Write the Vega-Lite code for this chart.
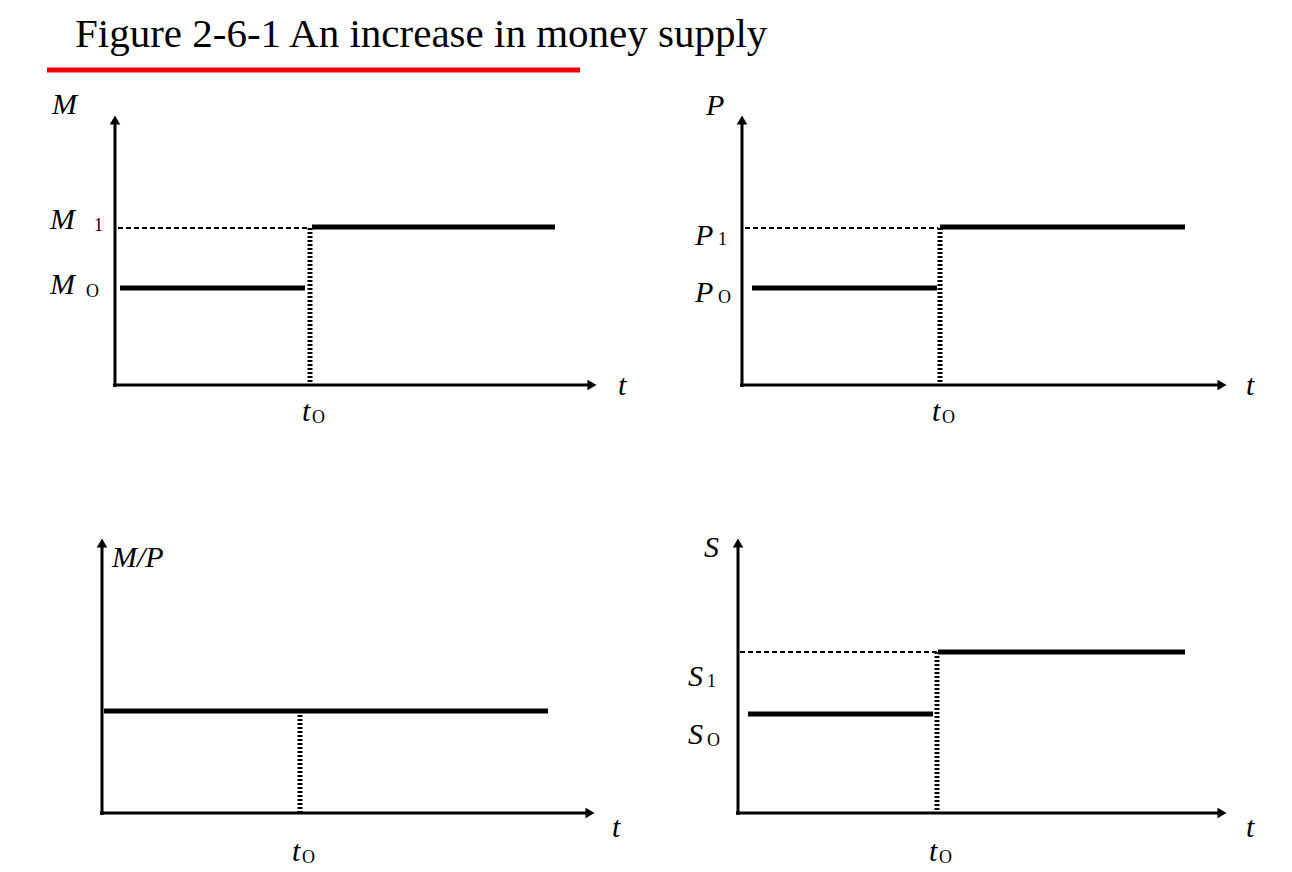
{
  "$schema": "https://vega.github.io/schema/vega-lite/v6.json",
  "width": 1292,
  "height": 872,
  "autosize": {"type": "fit", "contains": "padding"},
  "padding": 0,
  "background": "white",
  "config": {"view": {"stroke": null}},
  "datasets": {
    "segs": [
      {"s": "red", "k": "red", "x": 47, "y": 70}, {"s": "red", "k": "red", "x": 580, "y": 70},

      {"s": "a1y", "k": "axis", "x": 115, "y": 387}, {"s": "a1y", "k": "axis", "x": 115, "y": 120},
      {"s": "a1x", "k": "axis", "x": 113, "y": 385}, {"s": "a1x", "k": "axis", "x": 590, "y": 385},
      {"s": "d1", "k": "dash", "x": 118, "y": 228}, {"s": "d1", "k": "dash", "x": 310, "y": 228},
      {"s": "m0", "k": "thick", "x": 120, "y": 288}, {"s": "m0", "k": "thick", "x": 305, "y": 288},
      {"s": "m1", "k": "thick", "x": 312, "y": 227}, {"s": "m1", "k": "thick", "x": 555, "y": 227},
      {"s": "v1", "k": "dot", "x": 310, "y": 228}, {"s": "v1", "k": "dot", "x": 310, "y": 385},

      {"s": "a2y", "k": "axis", "x": 742, "y": 387}, {"s": "a2y", "k": "axis", "x": 742, "y": 120},
      {"s": "a2x", "k": "axis", "x": 740, "y": 385}, {"s": "a2x", "k": "axis", "x": 1220, "y": 385},
      {"s": "d2", "k": "dash", "x": 745, "y": 228}, {"s": "d2", "k": "dash", "x": 938, "y": 228},
      {"s": "p0", "k": "thick", "x": 752, "y": 288}, {"s": "p0", "k": "thick", "x": 937, "y": 288},
      {"s": "p1", "k": "thick", "x": 940, "y": 227}, {"s": "p1", "k": "thick", "x": 1185, "y": 227},
      {"s": "v2", "k": "dot", "x": 940, "y": 228}, {"s": "v2", "k": "dot", "x": 940, "y": 385},

      {"s": "a3y", "k": "axis", "x": 102, "y": 815}, {"s": "a3y", "k": "axis", "x": 102, "y": 543},
      {"s": "a3x", "k": "axis", "x": 100, "y": 813}, {"s": "a3x", "k": "axis", "x": 588, "y": 813},
      {"s": "mp", "k": "thick", "x": 104, "y": 711}, {"s": "mp", "k": "thick", "x": 548, "y": 711},
      {"s": "v3", "k": "dot", "x": 300, "y": 711}, {"s": "v3", "k": "dot", "x": 300, "y": 813},

      {"s": "a4y", "k": "axis", "x": 738, "y": 815}, {"s": "a4y", "k": "axis", "x": 738, "y": 543},
      {"s": "a4x", "k": "axis", "x": 736, "y": 813}, {"s": "a4x", "k": "axis", "x": 1220, "y": 813},
      {"s": "d4", "k": "dash", "x": 740, "y": 652}, {"s": "d4", "k": "dash", "x": 937, "y": 652},
      {"s": "s0", "k": "thick", "x": 748, "y": 714}, {"s": "s0", "k": "thick", "x": 933, "y": 714},
      {"s": "s1", "k": "thick", "x": 938, "y": 652}, {"s": "s1", "k": "thick", "x": 1185, "y": 652},
      {"s": "v4", "k": "dot", "x": 937, "y": 652}, {"s": "v4", "k": "dot", "x": 937, "y": 813}
    ],
    "arrows": [
      {"x": 115, "y": 120, "d": "up"}, {"x": 592, "y": 385, "d": "right"},
      {"x": 742, "y": 120, "d": "up"}, {"x": 1222, "y": 385, "d": "right"},
      {"x": 102, "y": 543, "d": "up"}, {"x": 590, "y": 813, "d": "right"},
      {"x": 738, "y": 543, "d": "up"}, {"x": 1222, "y": 813, "d": "right"}
    ],
    "texts": [
      {"x": 75, "y": 35, "t": "Figure 2-6-1 An increase in money supply", "k": "title"},
      {"x": 52, "y": 105, "t": "M", "k": "main"},
      {"x": 50, "y": 220, "t": "M", "k": "main"}, {"x": 94, "y": 226, "t": "1", "k": "sub"},
      {"x": 50, "y": 285, "t": "M", "k": "main"}, {"x": 86, "y": 292, "t": "O", "k": "sub"},
      {"x": 618, "y": 386, "t": "t", "k": "main"},
      {"x": 302, "y": 412, "t": "t", "k": "main"}, {"x": 312, "y": 418, "t": "O", "k": "sub"},

      {"x": 706, "y": 106, "t": "P", "k": "main"},
      {"x": 695, "y": 236, "t": "P", "k": "main"}, {"x": 718, "y": 240, "t": "1", "k": "sub"},
      {"x": 695, "y": 293, "t": "P", "k": "main"}, {"x": 718, "y": 298, "t": "O", "k": "sub"},
      {"x": 1246, "y": 386, "t": "t", "k": "main"},
      {"x": 932, "y": 412, "t": "t", "k": "main"}, {"x": 942, "y": 418, "t": "O", "k": "sub"},

      {"x": 112, "y": 558, "t": "M/P", "k": "main"},
      {"x": 612, "y": 828, "t": "t", "k": "main"},
      {"x": 292, "y": 852, "t": "t", "k": "main"}, {"x": 302, "y": 858, "t": "O", "k": "sub"},

      {"x": 704, "y": 548, "t": "S", "k": "main"},
      {"x": 688, "y": 677, "t": "S", "k": "main"}, {"x": 707, "y": 682, "t": "1", "k": "sub"},
      {"x": 688, "y": 735, "t": "S", "k": "main"}, {"x": 707, "y": 741, "t": "O", "k": "sub"},
      {"x": 1246, "y": 828, "t": "t", "k": "main"},
      {"x": 929, "y": 852, "t": "t", "k": "main"}, {"x": 939, "y": 858, "t": "O", "k": "sub"}
    ]
  },
  "encoding": {
    "x": {"field": "x", "type": "quantitative", "axis": null, "scale": {"domain": [0, 1292], "nice": false, "zero": false}},
    "y": {"field": "y", "type": "quantitative", "axis": null, "scale": {"domain": [0, 872], "nice": false, "zero": false, "reverse": true}}
  },
  "layer": [
    {
      "data": {"name": "segs"},
      "transform": [{"filter": "datum.k === 'red'"}],
      "mark": {"type": "line", "color": "#ee0000", "strokeWidth": 5, "strokeCap": "butt"},
      "encoding": {"detail": {"field": "s"}}
    },
    {
      "data": {"name": "segs"},
      "transform": [{"filter": "datum.k === 'axis'"}],
      "mark": {"type": "line", "color": "black", "strokeWidth": 3},
      "encoding": {"detail": {"field": "s"}}
    },
    {
      "data": {"name": "segs"},
      "transform": [{"filter": "datum.k === 'thick'"}],
      "mark": {"type": "line", "color": "black", "strokeWidth": 5, "strokeCap": "butt"},
      "encoding": {"detail": {"field": "s"}}
    },
    {
      "data": {"name": "segs"},
      "transform": [{"filter": "datum.k === 'dash'"}],
      "mark": {"type": "line", "color": "black", "strokeWidth": 2, "strokeDash": [5, 3]},
      "encoding": {"detail": {"field": "s"}}
    },
    {
      "data": {"name": "segs"},
      "transform": [{"filter": "datum.k === 'dot'"}],
      "mark": {"type": "line", "color": "black", "strokeWidth": 5, "strokeDash": [2, 2]},
      "encoding": {"detail": {"field": "s"}}
    },
    {
      "data": {"name": "arrows"},
      "mark": {"type": "point", "filled": true, "color": "black", "size": 110, "opacity": 1},
      "encoding": {
        "shape": {"field": "d", "type": "nominal", "legend": null, "scale": {"domain": ["up", "right"], "range": ["triangle-up", "triangle-right"]}}
      }
    },
    {
      "data": {"name": "texts"},
      "transform": [{"filter": "datum.k === 'title'"}],
      "mark": {"type": "text", "align": "left", "baseline": "middle", "font": "Liberation Serif", "fontSize": 41, "color": "black"},
      "encoding": {"text": {"field": "t"}}
    },
    {
      "data": {"name": "texts"},
      "transform": [{"filter": "datum.k === 'main'"}],
      "mark": {"type": "text", "align": "left", "baseline": "middle", "font": "Liberation Serif", "fontStyle": "italic", "fontSize": 30, "color": "black"},
      "encoding": {"text": {"field": "t"}}
    },
    {
      "data": {"name": "texts"},
      "transform": [{"filter": "datum.k === 'sub'"}],
      "mark": {"type": "text", "align": "left", "baseline": "middle", "font": "Liberation Serif", "fontSize": 18, "color": "black"},
      "encoding": {"text": {"field": "t"}}
    }
  ]
}
